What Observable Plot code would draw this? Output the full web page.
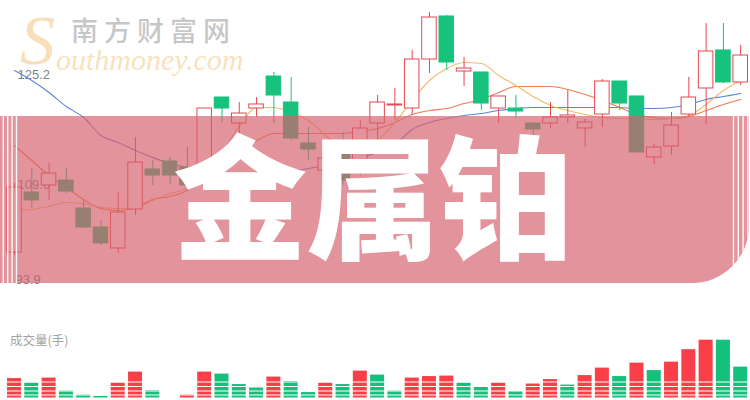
<!DOCTYPE html>
<html><head><meta charset="utf-8">
<script src="https://cdn.jsdelivr.net/npm/d3@7"></script>
<script src="https://cdn.jsdelivr.net/npm/@observablehq/plot@0.6"></script>
<style>
html,body{margin:0;padding:0;background:#fff;}
#wrap{position:relative;width:750px;height:400px;overflow:hidden;background:#fff;font-family:"Liberation Sans",Arial,sans-serif;}
#wrap > svg, #wrap > div{position:absolute;left:0;top:0;}
</style>
</head><body>
<div id="wrap"></div>
<script>
// ---- data ----
const opens  = [98.58,107.36,108.38,109.11,105.02,102.24,99.17,104.87,110.72,111.89,111.01,109.11,121.25,117.45,119.64,124.32,120.52,114.52,110.57,113.21,110.28,117.45,120.08,119.64,126.81,133.10,125.05,124.91,119.64,119.64,117.45,117.45,118.33,116.72,118.76,123.59,121.40,112.48,114.08,118.76,122.57,128.13,123.45];
const closes = [108.09,106.19,110.13,107.50,102.24,99.90,104.43,111.74,109.84,109.84,108.38,119.64,119.64,118.91,120.23,121.54,115.25,113.64,112.33,109.11,116.72,120.52,120.23,126.81,132.95,126.37,125.49,120.37,121.40,119.20,116.57,118.33,118.62,117.59,123.59,120.37,113.21,113.94,117.16,121.25,127.98,123.45,127.39];
const highs  = [108.67,110.87,111.60,110.87,106.19,103.26,107.36,115.40,112.04,112.48,113.94,119.64,121.25,120.52,121.25,124.91,124.18,116.86,113.50,116.13,117.89,121.54,122.57,128.13,133.68,133.24,127.10,124.91,121.40,121.54,117.45,120.52,122.27,118.03,123.88,123.59,121.40,114.38,119.06,124.18,132.07,132.07,128.86];
const lows   = [98.14,105.02,106.19,107.21,102.09,99.60,98.43,103.99,108.38,108.53,107.65,108.38,117.59,115.25,118.33,117.45,114.96,112.04,109.84,108.38,109.84,114.96,117.89,118.62,124.76,125.20,122.86,119.35,117.45,118.18,114.23,116.72,117.45,113.94,116.86,119.35,113.21,111.45,112.77,118.33,117.30,123.30,123.01];
const ma5  = [104.72,104.87,105.31,105.89,105.75,105.16,105.02,105.16,106.19,107.21,107.94,109.84,113.21,117.01,119.79,119.79,119.06,117.89,115.69,113.79,113.21,114.96,117.59,120.81,123.74,125.49,126.37,126.22,124.47,123.01,121.40,120.08,119.35,118.76,118.33,118.18,118.18,118.03,118.18,118.62,120.23,122.27,123.74];
const ma10 = [114.23,112.04,109.84,108.09,106.33,105.02,104.72,105.16,106.33,106.77,107.65,109.40,112.04,113.79,114.96,115.99,115.99,115.99,115.99,115.99,116.28,116.72,117.59,118.76,119.35,119.64,120.37,120.96,121.98,122.86,122.86,122.86,122.42,121.69,120.81,119.79,118.76,118.33,118.18,118.47,119.35,120.23,120.96];
const ma20 = [125.20,123.74,121.98,119.93,118.33,115.69,114.67,113.50,112.48,111.60,111.01,110.43,110.13,110.13,110.13,110.28,110.43,110.87,111.31,111.89,112.48,113.21,114.38,116.57,117.59,118.18,118.62,118.91,119.35,119.64,119.79,119.79,119.79,119.79,119.79,119.79,119.64,119.64,119.79,120.23,120.96,121.40,121.84];
const volumes = [1950,1500,2000,700,300,150,1500,2600,750,0,300,2600,2400,1350,1000,2100,1650,550,1500,1350,2700,2300,700,2000,2150,2200,1500,1100,1500,650,1400,1850,1300,2250,3000,2150,3500,2750,3600,4850,5800,5800,3100];
const volDir = ["up","down","up","down","down","down","up","up","down","down","up","up","down","down","down","up","down","down","up","down","up","down","down","up","up","up","down","down","up","down","up","up","down","up","up","down","up","down","up","up","up","down","down"];
const priceTicks = [125.2, 109.6, 93.9];
const priceTickLabels = ["125.2","109.6","93.9"];
const title = "金属铂";
const volumeLabel = "成交量(手)";

// ---- build ----
const RED = "#e5464f", GREEN = "#17c27c";
const VRED = "#fb3f48", VGREEN = "#15c07c";
const candles = opens.map((o,i)=>({i, open:o, close:closes[i], high:highs[i], low:lows[i], up: closes[i] >= o}));
const lineOf = arr => arr.map((v,i)=>({i, v}));
const vols = volumes.map((v,i)=>({i, v, dir: volDir[i]}));
const ticks = priceTicks.map((v,k)=>({v, label: priceTickLabels[k], k}));

const xScale = {domain:[0,42], range:[14,740.2], axis:null};
const wrap = document.getElementById("wrap");
const tickFont = {textAnchor:"start", fill:"#7d828c", fontSize:13, fontFamily:"Liberation Sans, Arial, sans-serif", frameAnchor:"left"};

const price = Plot.plot({
  width:750, height:400, margin:0,
  style:{background:"transparent", overflow:"visible"},
  x: xScale,
  y: {domain:[93.9,125.2], range:[284,70], axis:null},
  marks:[
    Plot.text(ticks.filter(d=>d.k===0), {y:"v", text:"label", dx:17, dy:4, ...tickFont}),
    Plot.text(ticks.filter(d=>d.k===1), {y:"v", text:"label", dx:17, dy:8, ...tickFont}),
    Plot.text(ticks.filter(d=>d.k===2), {y:"v", text:"label", dx:15, dy:-5, ...tickFont}),
    Plot.line(lineOf(ma20), {x:"i", y:"v", stroke:"#5a86d8", strokeWidth:1.1, curve:"monotone-x"}),
    Plot.line(lineOf(ma10), {x:"i", y:"v", stroke:"#ec7d52", strokeWidth:1.1, curve:"monotone-x"}),
    Plot.line(lineOf(ma5),  {x:"i", y:"v", stroke:"#f6b86c", strokeWidth:1.1, curve:"monotone-x"}),
    Plot.ruleX(candles, {x:"i", y1:"low", y2:"high", stroke:d=>d.up?RED:GREEN, strokeWidth:1}),
    Plot.rect(candles, {x1:d=>d.i-0.42, x2:d=>d.i+0.42, y1:"open", y2:"close",
      fill:d=>d.up?"#ffffff":GREEN, stroke:d=>d.up?RED:GREEN, strokeWidth:1})
  ]
});
wrap.appendChild(price);

// banner overlay (decoration)
const NS = "http://www.w3.org/2000/svg";
const deco = document.createElementNS(NS,"svg");
deco.setAttribute("width",750); deco.setAttribute("height",400);
deco.innerHTML = `
<defs><clipPath id="bc"><path d="M0 116 H749 V226 A57 57 0 0 1 692 283 H0 Z"/></clipPath></defs>
<path d="M0 116 H749 V226 A57 57 0 0 1 692 283 H0 Z" fill="rgb(214,96,108)" fill-opacity="0.68"/>
<g clip-path="url(#bc)" fill="#fff" fill-opacity="0.92">
  <rect x="2.6" y="116" width="1.4" height="170"/>
  <rect x="7" y="116" width="1.4" height="170"/>
  <rect x="11.4" y="116" width="1.4" height="170"/>
  <rect x="15.8" y="116" width="1.4" height="170"/>
  <rect x="732.8" y="116" width="1.4" height="170"/>
  <rect x="737.6" y="116" width="1.4" height="170"/>
  <rect x="742.4" y="116" width="1.4" height="170"/>
  <rect x="747.2" y="116" width="1.4" height="170"/>
</g>
<text x="173" y="249" fill="#fff" font-family="'Noto Sans CJK SC','Noto Sans CJK JP',sans-serif" font-weight="900" font-size="134" letter-spacing="-1">${title}</text>
`;
wrap.appendChild(deco);

// volume
const vol = Plot.plot({
  width:750, height:400, margin:0,
  style:{background:"transparent", overflow:"visible"},
  x: xScale,
  y: {domain:[0,5800], range:[397.5,339.7], axis:null},
  marks:[
    Plot.rectY(vols, {x1:d=>d.i-0.405, x2:d=>d.i+0.405, y:"v", fill:d=>d.dir==="up"?VRED:VGREEN})
  ]
});
wrap.appendChild(vol);

const deco2 = document.createElementNS(NS,"svg");
deco2.setAttribute("width",750); deco2.setAttribute("height",400);
deco2.innerHTML = `
<g stroke="#fff" stroke-width="1.1">
  <line x1="0" x2="750" y1="382" y2="382"/>
  <line x1="0" x2="750" y1="386.5" y2="386.5"/>
  <line x1="0" x2="750" y1="391" y2="391"/>
  <line x1="0" x2="750" y1="395" y2="395"/>
</g>
<text x="10" y="345" fill="#a3a3a3" font-family="'Noto Sans CJK SC',sans-serif" font-size="12.5">${volumeLabel}</text>
<text x="20" y="64" fill="#f8d9ad" fill-opacity="0.85" font-family="'Liberation Serif',serif" font-style="italic" font-size="70">S</text>
<text x="56" y="70" fill="#f8dcb2" fill-opacity="0.85" font-family="'Liberation Serif',serif" font-style="italic" font-size="30">outhmoney.com</text>
<text x="71" y="41" fill="#bdbdbd" fill-opacity="0.85" font-family="'Noto Sans CJK SC',sans-serif" font-weight="500" font-size="27" letter-spacing="6">南方财富网</text>
`;
wrap.appendChild(deco2);
</script>
</body></html>
